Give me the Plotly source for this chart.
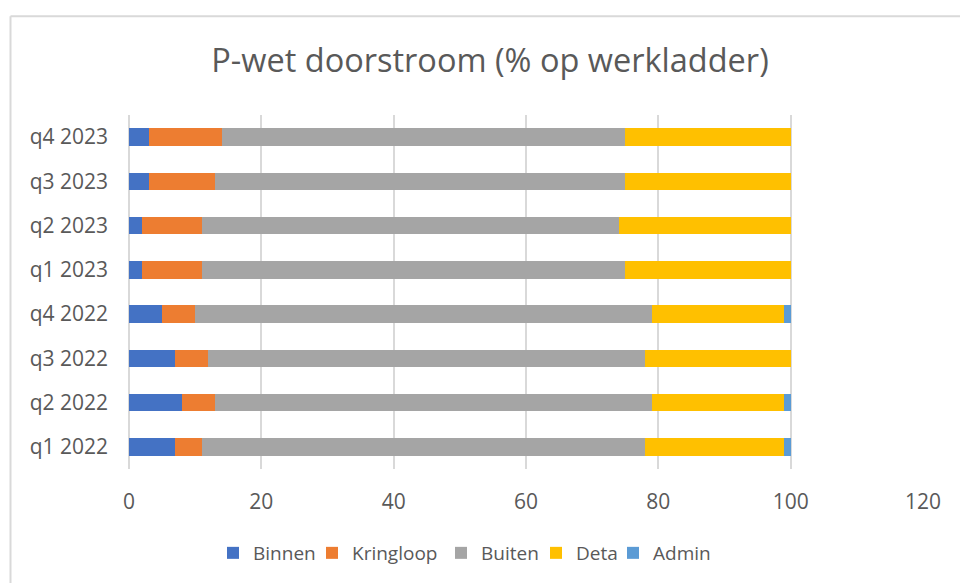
import plotly.graph_objects as go

categories = ["q1 2022", "q2 2022", "q3 2022", "q4 2022", "q1 2023", "q2 2023", "q3 2023", "q4 2023"]
binnen = [7, 8, 7, 5, 2, 2, 3, 3]
kringloop = [4, 5, 5, 5, 9, 9, 10, 11]
buiten = [67, 66, 66, 69, 64, 63, 62, 61]
deta = [21, 20, 22, 20, 25, 26, 25, 25]
admin = [1, 1, 0, 1, 0, 0, 0, 0]
x_ticks = [0, 20, 40, 60, 80, 100, 120]

series = [
    ("Binnen", binnen, "#4472C4"),
    ("Kringloop", kringloop, "#ED7D31"),
    ("Buiten", buiten, "#A5A5A5"),
    ("Deta", deta, "#FFC000"),
    ("Admin", admin, "#5B9BD5"),
]
legend_square_px = [228, 327, 456, 551, 628]

W, H = 960, 583
L, R, T, B = 129, 923, 115, 470

def px_x(p):
    return (p - L) / (R - L)

def px_y(p):
    return (B - p) / (B - T)

fig = go.Figure()
legend_layouts = {}
for i, (name, vals, col) in enumerate(series):
    lname = "legend" if i == 0 else f"legend{i + 1}"
    fig.add_trace(go.Bar(
        y=categories, x=vals, name=name, orientation="h", showlegend=True,
        marker=dict(color=col, line=dict(width=0)), legend=lname,
    ))
    legend_layouts[lname] = dict(
        orientation="h", x=px_x(legend_square_px[i] - 15), xanchor="left",
        y=px_y(553), yanchor="middle", font=dict(size=19, color="#595959"),
        itemwidth=30, bgcolor="rgba(0,0,0,0)", visible=True,
    )

fig.update_layout(
    width=W, height=H, showlegend=True,
    barmode="stack", bargap=0.6,
    plot_bgcolor="white", paper_bgcolor="white",
    margin=dict(l=L, r=W - R, t=T, b=H - B, pad=0),
    font=dict(family="Open Sans", color="#595959"),
    title=dict(text="P-wet doorstroom (% op werkladder)", x=490 / W, xref="container",
               xanchor="center", y=1 - 61 / H, yref="container", yanchor="middle",
               font=dict(size=32.5, color="#595959")),
    xaxis=dict(range=[0, 120], tickvals=x_ticks, showgrid=True, gridcolor="#D9D9D9", gridwidth=2,
               zeroline=True, zerolinecolor="#D9D9D9", zerolinewidth=2, showline=False,
               tickfont=dict(size=21, color="#595959"), ticklabelstandoff=18, fixedrange=True),
    yaxis=dict(showgrid=False, showline=False, tickfont=dict(size=21, color="#595959"),
               ticklabelstandoff=20, categoryorder="array", categoryarray=categories),
    shapes=[
        dict(type="line", xref="paper", yref="paper", x0=px_x(10.5), x1=px_x(975), y0=px_y(16), y1=px_y(16),
             line=dict(color="#D9D9D9", width=2)),
        dict(type="line", xref="paper", yref="paper", x0=px_x(10.5), x1=px_x(10.5), y0=px_y(16), y1=px_y(600),
             line=dict(color="#D9D9D9", width=2)),
    ],
    **legend_layouts,
)

fig.write_html("out.html", config={"displayModeBar": False},
               post_script="document.body.style.margin='0';document.body.style.overflow='hidden';")
